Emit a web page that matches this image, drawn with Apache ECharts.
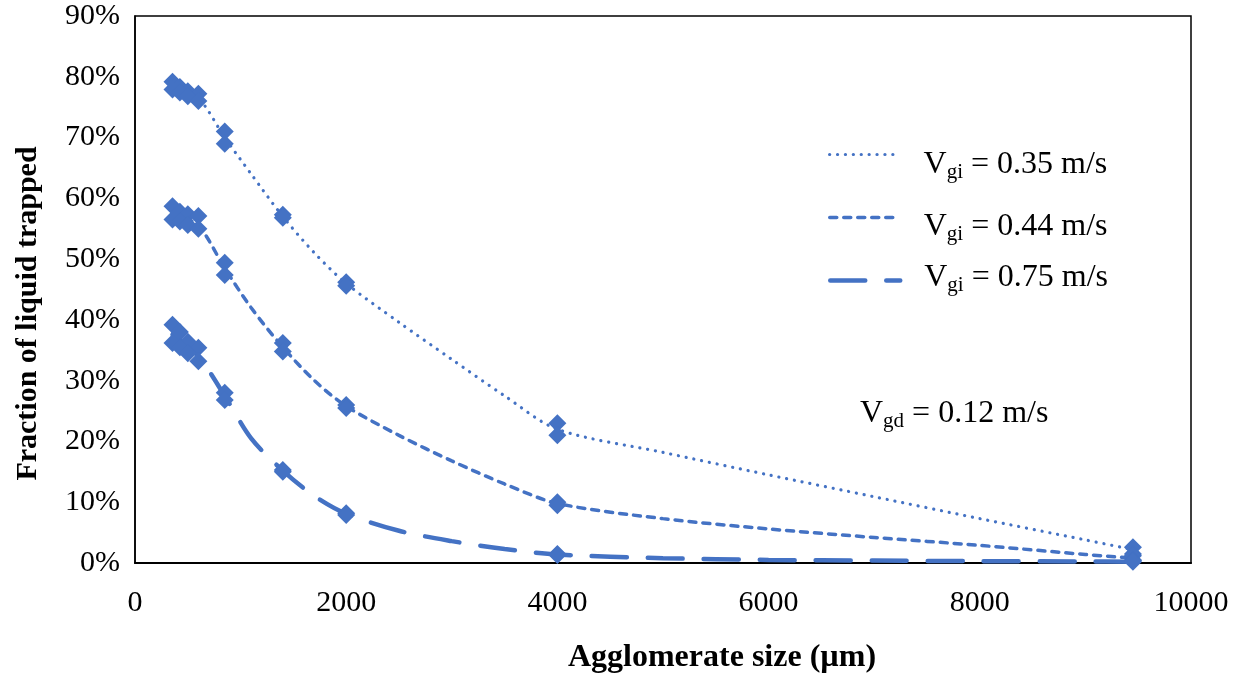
<!DOCTYPE html>
<html>
<head>
<meta charset="utf-8">
<script src="https://cdn.jsdelivr.net/npm/echarts@6/dist/echarts.min.js"></script>
<style>html,body{margin:0;padding:0;background:#fff;}#c{width:1245px;height:673px;}</style>
</head>
<body>
<div id="c"></div>
<script>
// ---- data ----
const sizes = [355, 425, 500, 600, 850, 1400, 2000, 4000, 9450];
const v035a = [79.2, 78.3, 77.6, 77.2, 71.0, 57.3, 46.2, 23.0, 2.6];
const v035b = [77.9, 77.4, 76.8, 76.0, 69.0, 56.8, 45.6, 21.0, 1.5];
const v044a = [58.7, 57.8, 57.4, 57.1, 49.4, 36.2, 26.0, 10.0, 1.2];
const v044b = [56.5, 56.2, 55.6, 55.0, 47.4, 34.8, 25.5, 9.5, 0.5];
const v075a = [39.2, 38.0, 36.4, 35.4, 28.0, 15.3, 8.2, 1.5, 0.4];
const v075b = [36.2, 35.5, 34.5, 33.2, 26.8, 15.0, 7.9, 1.3, 0.2];

const curveSizes = [355, 600, 850, 1100, 1400, 1700, 2000, 2500, 3000, 3500, 4000, 5000, 6000, 7000, 8000, 9000, 9450];
const curve035 = [78.6, 76.5, 70.0, 64.0, 57.0, 51.0, 46.0, 39.6, 33.5, 27.5, 22.0, 18.2, 14.5, 10.9, 7.3, 3.8, 2.2];
const curve044 = [57.6, 55.5, 48.5, 42.0, 35.5, 30.0, 25.8, 21.0, 16.8, 13.0, 9.8, 7.3, 5.6, 4.2, 2.9, 1.4, 0.8];
const curve075 = [37.6, 34.0, 27.5, 20.5, 15.2, 11.0, 8.1, 5.3, 3.6, 2.3, 1.4, 0.8, 0.5, 0.4, 0.3, 0.25, 0.2];

const seriesNames = ['0.35', '0.44', '0.75'];
const yTicks = [0, 10, 20, 30, 40, 50, 60, 70, 80, 90];
const xTicks = [0, 2000, 4000, 6000, 8000, 10000];

// ---- build ----
const C = '#4472C4';
const font = 'Liberation Serif, Times New Roman, serif';
function pairs(xs, ys) { return xs.map((x, i) => [x, ys[i]]); }
const lineStyles = [
  { type: [0.1, 7.8], width: 3.2, cap: 'round' },
  { type: [7, 7], width: 3.5, cap: 'round' },
  { type: [35, 21], width: 4.5, cap: 'round' }
];
const curves = [curve035, curve044, curve075];
const pts = [[v035a, v035b], [v044a, v044b], [v075a, v075b]];
const series = [];
seriesNames.forEach((n, k) => {
  series.push({
    name: n, type: 'line', data: pairs(curveSizes, curves[k]),
    smooth: 0.3, symbol: 'none', showSymbol: false,
    lineStyle: Object.assign({ color: C }, lineStyles[k]), itemStyle: { color: C },
    z: 2, silent: true
  });
  pts[k].forEach(arr => series.push({
    name: n + 'pts', type: 'scatter', data: pairs(sizes, arr),
    symbol: 'diamond', symbolSize: 18, itemStyle: { color: C, opacity: 1 }, z: 3
  }));
});

const legendTops = [141, 203, 254];
const legendPads = [[20, 0, 0, 19], [18, 0, 0, 19], [0, 0, 6, 19]];
const legends = seriesNames.map((n, k) => ({
  data: [n], left: 823, top: legendTops[k], orient: 'vertical',
  itemWidth: 70, itemHeight: 14, itemGap: 0, selectedMode: false,
  itemStyle: { opacity: 0 },
  lineStyle: { color: C, width: lineStyles[k].width, type: lineStyles[k].type, cap: 'round' },
  formatter: function (name) { return '{v|V}{s|gi}{v| = ' + name + ' m/s}'; },
  textStyle: {
    padding: legendPads[k],
    rich: {
      v: { fontFamily: font, fontSize: 32, color: '#000', lineHeight: 40 },
      s: { fontFamily: font, fontSize: 21, color: '#000', padding: [16, 0, 0, 0], lineHeight: 40 }
    }
  }
}));

const chart = echarts.init(document.getElementById('c'), null, { renderer: 'canvas' });
chart.setOption({
  animation: false,
  backgroundColor: '#fff',
  grid: { left: 135, right: 54, top: 16, bottom: 110, show: true, borderColor: '#000', borderWidth: 1.5, backgroundColor: 'transparent', outerBoundsMode: 'none', containLabel: false },
  xAxis: {
    type: 'value', min: xTicks[0], max: xTicks[xTicks.length - 1], interval: 2000,
    name: 'Agglomerate size (µm)', nameLocation: 'middle', nameGap: 79,
    nameTextStyle: { fontFamily: font, fontSize: 32, fontWeight: 'bold', color: '#000', padding: [0, 0, 0, 118] },
    axisLine: { show: true, lineStyle: { color: '#000', width: 2 } },
    axisTick: { show: false }, splitLine: { show: false },
    axisLabel: { fontFamily: font, fontSize: 30, color: '#000', margin: 25, formatter: v => String(v) }
  },
  yAxis: {
    type: 'value', min: yTicks[0], max: yTicks[yTicks.length - 1], interval: 10,
    name: 'Fraction of liquid trapped', nameLocation: 'middle', nameGap: 92,
    nameTextStyle: { fontFamily: font, fontSize: 30, fontWeight: 'bold', color: '#000', padding: [0, 48, 0, 0] },
    axisLine: { show: true, lineStyle: { color: '#000', width: 1.5 } },
    axisTick: { show: false }, splitLine: { show: false },
    axisLabel: { fontFamily: font, fontSize: 30, color: '#000', margin: 15, formatter: v => v + '%' }
  },
  legend: legends,
  graphic: [{
    type: 'text', left: 860, top: 395,
    style: {
      text: '{v|V}{s|gd}{v| = 0.12 m/s}',
      rich: {
        v: { fontFamily: font, fontSize: 32, fill: '#000', lineHeight: 40 },
        s: { fontFamily: font, fontSize: 21, fill: '#000', padding: [16, 0, 0, 0], lineHeight: 40 }
      }
    }
  }],
  series: series
});
</script>
</body>
</html>
